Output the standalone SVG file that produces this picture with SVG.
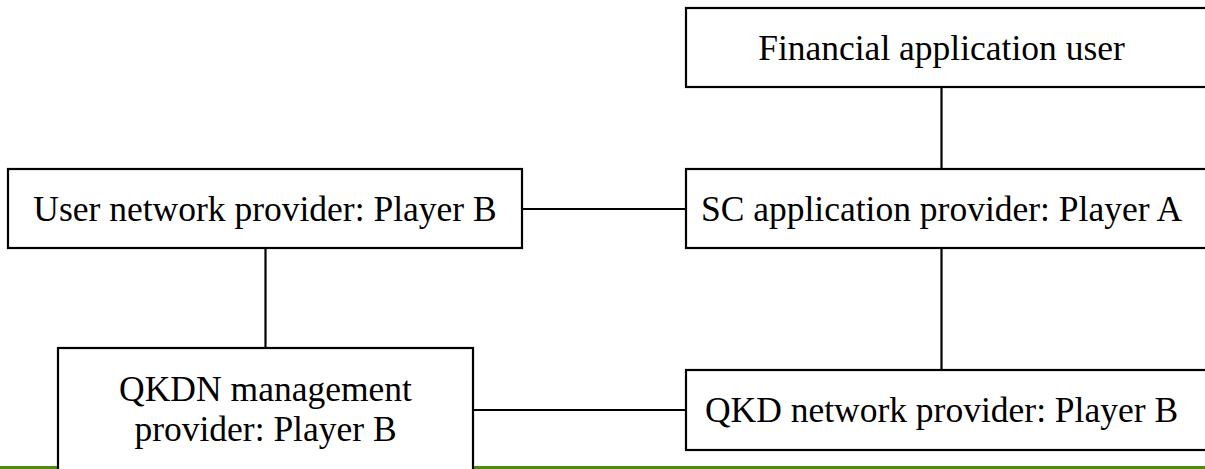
<svg xmlns="http://www.w3.org/2000/svg" width="1205" height="469" viewBox="0 0 1205 469">
  <style>
    .box { fill: #ffffff; stroke: #000000; stroke-width: 2.2; }
    .link { stroke: #000000; stroke-width: 2.2; fill: none; }
    .label { font-family: "Liberation Serif", "Times New Roman", serif; font-size: 35.5px; fill: #000000; text-anchor: middle; }
  </style>
  <rect width="1205" height="469" fill="#ffffff"/>
  <!-- page rule along the bottom edge -->
  <rect x="0" y="466" width="1205" height="3" fill="#4f8a10"/>

  <g id="connectors">
    <line class="link" x1="941.5" y1="87" x2="941.5" y2="169"/>
    <line class="link" x1="522" y1="209" x2="686" y2="209"/>
    <line class="link" x1="265.5" y1="248" x2="265.5" y2="348"/>
    <line class="link" x1="941.5" y1="248" x2="941.5" y2="370"/>
    <line class="link" x1="473" y1="410" x2="686" y2="410"/>
  </g>

  <g id="financial-application-user">
    <rect class="box" x="686" y="8" width="530" height="79"/>
    <text class="label" x="941.5" y="60">Financial application user</text>
  </g>

  <g id="sc-application-provider">
    <rect class="box" x="686" y="169" width="530" height="79"/>
    <text class="label" x="941.5" y="221">SC application provider: Player A</text>
  </g>

  <g id="user-network-provider">
    <rect class="box" x="8" y="169" width="514" height="79"/>
    <text class="label" x="265" y="221">User network provider: Player B</text>
  </g>

  <g id="qkdn-management-provider">
    <rect class="box" x="58" y="348" width="415" height="130"/>
    <text class="label" x="265.5" y="401">QKDN management</text>
    <text class="label" x="265.5" y="441">provider: Player B</text>
  </g>

  <g id="qkd-network-provider">
    <rect class="box" x="686" y="370" width="530" height="80"/>
    <text class="label" x="941.5" y="422">QKD network provider: Player B</text>
  </g>
</svg>
